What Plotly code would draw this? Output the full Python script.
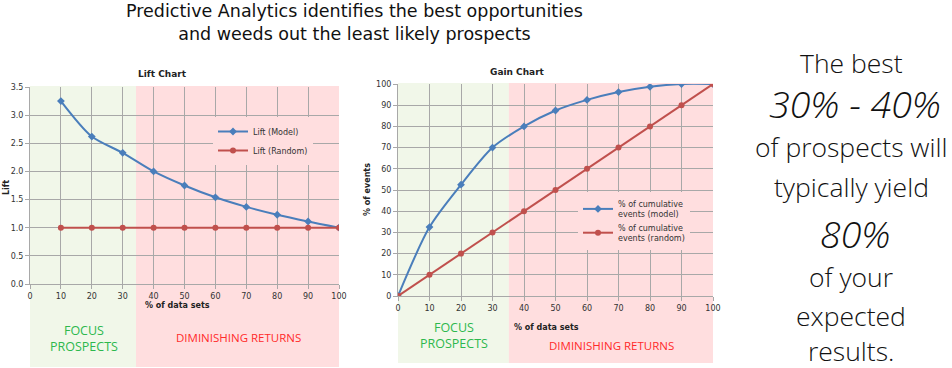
import plotly.graph_objects as go

# ---- data ----
lift_x = [10, 20, 30, 40, 50, 60, 70, 80, 90, 100]
lift_model = [3.25, 2.62, 2.33, 2.0, 1.75, 1.54, 1.37, 1.23, 1.11, 1.0]
lift_random = [1.0, 1.0, 1.0, 1.0, 1.0, 1.0, 1.0, 1.0, 1.0, 1.0]

gain_x = [0, 10, 20, 30, 40, 50, 60, 70, 80, 90, 100]
gain_model = [0, 32.5, 52.5, 70, 80, 87.5, 92.5, 96.2, 98.7, 100, 100]
gain_random = [0, 10, 20, 30, 40, 50, 60, 70, 80, 90, 100]

lift_focus_end = 34.3
gain_focus_end = 35.2

x_ticks = [0, 10, 20, 30, 40, 50, 60, 70, 80, 90, 100]
lift_y_ticks = [0.0, 0.5, 1.0, 1.5, 2.0, 2.5, 3.0, 3.5]
gain_y_ticks = [0, 10, 20, 30, 40, 50, 60, 70, 80, 90, 100]

title_lines = ["Predictive Analytics identifies the best opportunities",
               "and weeds out the least likely prospects"]
side_lines = [("The best", False), ("30% - 40%", True), ("of prospects will", False),
              ("typically yield", False), ("80%", True), ("of your", False),
              ("expected", False), ("results.", False)]

BLUE = "#4A7EBB"
RED = "#C0504D"
GREEN_BG = "#F1F7E9"
PINK_BG = "#FFDEDF"
GRID = "#A8A8A8"
W, H = 952, 368

def px_x(p):
    return p / W

def px_y(p):
    return 1 - p / H

fig = go.Figure()

fig.add_trace(go.Scatter(x=lift_x, y=lift_model, name="Lift (Model)", mode="lines+markers",
                         line=dict(color=BLUE, width=2, shape="spline", smoothing=0.8),
                         marker=dict(symbol="diamond", size=6, color=BLUE),
                         xaxis="x", yaxis="y", legend="legend"))
fig.add_trace(go.Scatter(x=lift_x, y=lift_random, name="Lift (Random)", mode="lines+markers",
                         line=dict(color=RED, width=2),
                         marker=dict(symbol="circle", size=6, color=RED),
                         xaxis="x", yaxis="y", legend="legend"))
fig.add_trace(go.Scatter(x=gain_x, y=gain_model, name="% of cumulative<br>events (model)",
                         mode="lines+markers",
                         line=dict(color=BLUE, width=2, shape="spline", smoothing=0.8),
                         marker=dict(symbol="diamond", size=6, color=BLUE),
                         xaxis="x2", yaxis="y2", legend="legend2"))
fig.add_trace(go.Scatter(x=gain_x, y=gain_random, name="% of cumulative<br>events (random)",
                         mode="lines+markers",
                         line=dict(color=RED, width=2),
                         marker=dict(symbol="circle", size=6, color=RED),
                         xaxis="x2", yaxis="y2", legend="legend2"))

tickfont = dict(family="DejaVu Sans", size=8, color="#333333")
axis_common = dict(showgrid=True, gridcolor=GRID, gridwidth=1, zeroline=False,
                   showline=True, linecolor=GRID, linewidth=1, tickfont=tickfont,
                   ticks="outside", ticklen=4, tickcolor=GRID, automargin=False)

fig.update_layout(
    width=W, height=H, margin=dict(l=0, r=0, t=0, b=0, autoexpand=False),
    paper_bgcolor="white", plot_bgcolor="rgba(0,0,0,0)",
    xaxis=dict(domain=[px_x(30), px_x(339)], range=[0, 100], tickvals=x_ticks,
               anchor="y", **axis_common),
    yaxis=dict(domain=[px_y(284), px_y(87)], range=[0, 3.5], tickvals=lift_y_ticks,
               tickformat=".1f", anchor="x", **axis_common),
    xaxis2=dict(domain=[px_x(398), px_x(713)], range=[0, 100], tickvals=x_ticks,
                anchor="y2", **axis_common),
    yaxis2=dict(domain=[px_y(296), px_y(84)], range=[0, 100], tickvals=gain_y_ticks,
                anchor="x2", **axis_common),
    legend=dict(x=px_x(213), y=px_y(117), xanchor="left", yanchor="top",
                bgcolor=PINK_BG, font=dict(family="DejaVu Sans", size=8, color="#333333"),
                tracegroupgap=8, itemwidth=30),
    legend2=dict(x=px_x(578), y=px_y(192), xanchor="left", yanchor="top",
                 bgcolor=PINK_BG, font=dict(family="DejaVu Sans", size=8, color="#333333"),
                 tracegroupgap=6, itemwidth=30),
    showlegend=True,
)

shapes = []
for xr, focus_end, top_px, bottom_px in [("x", lift_focus_end, 86, 367), ("x2", gain_focus_end, 83, 363)]:
    shapes.append(dict(type="rect", xref=xr, yref="paper", x0=0, x1=focus_end,
                       y0=px_y(bottom_px), y1=px_y(top_px), fillcolor=GREEN_BG,
                       line=dict(width=0), layer="below"))
    shapes.append(dict(type="rect", xref=xr, yref="paper", x0=focus_end, x1=100,
                       y0=px_y(bottom_px), y1=px_y(top_px), fillcolor=PINK_BG,
                       line=dict(width=0), layer="below"))
fig.update_layout(shapes=shapes)

ann = []
MAIN_FONT = "Open Sans"

def add_text(text, x, y, font, angle=0):
    ann.append(dict(text=text, x=px_x(x), y=px_y(y), xref="paper", yref="paper",
                    showarrow=False, xanchor="center", yanchor="middle",
                    textangle=angle, font=font))

add_text("<br>".join(title_lines), 354, 22, dict(family="DejaVu Sans", size=17.5, color="#111111"))
small_bold = dict(family="DejaVu Sans", size=8, color="#222222")
add_text("<b>Lift Chart</b>", 162, 74, dict(family="DejaVu Sans", size=9, color="#222222"))
add_text("<b>Gain Chart</b>", 517, 72, dict(family="DejaVu Sans", size=9, color="#222222"))
add_text("<b>Lift</b>", 6, 188, small_bold, -90)
add_text("<b>% of events</b>", 367, 190, small_bold, -90)
add_text("<b>% of data sets</b>", 177, 305, small_bold)
add_text("<b>% of data sets</b>", 546, 327, small_bold)
add_text("FOCUS<br>PROSPECTS", 84, 338, dict(family=MAIN_FONT, size=12.5, color="#2DB84D"))
add_text("DIMINISHING RETURNS", 238, 337, dict(family=MAIN_FONT, size=11.5, color="#FF2A2A"))
add_text("FOCUS<br>PROSPECTS", 454, 335, dict(family=MAIN_FONT, size=12.5, color="#2DB84D"))
add_text("DIMINISHING RETURNS", 611, 345, dict(family=MAIN_FONT, size=11.5, color="#FF2A2A"))

side_y = [63, 104, 147, 187, 233, 277, 316, 351]
for (txt, big), yy in zip(side_lines, side_y):
    add_text(f"<i>{txt}</i>" if big else txt, 855 if big else 851, yy,
             dict(family=MAIN_FONT, size=37.5 if big else 26.5, color="#111111", weight=300))
fig.update_layout(annotations=ann)

fig.write_html("out.html", config={"displayModeBar": False},
               post_script="document.body.style.margin='0';document.body.style.overflow='hidden';")
